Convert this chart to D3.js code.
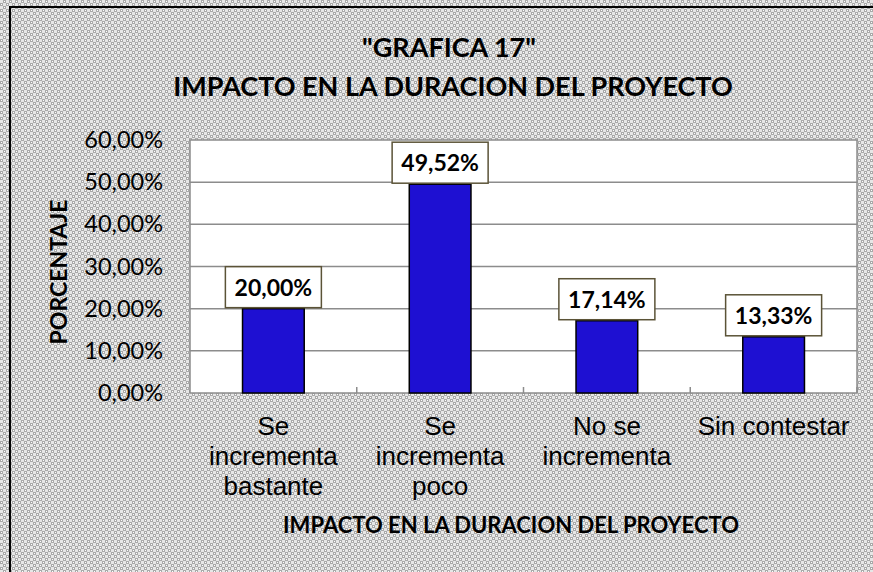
<!DOCTYPE html>
<html>
<head>
<meta charset="utf-8">
<script src="https://cdn.jsdelivr.net/npm/d3@7"></script>
<style>
  body { margin: 0; background: #fff; }
  svg { display: block; }
</style>
</head>
<body>
<div id="chart"></div>
<script>
// chart values
let categories = [
  ["Se", "incrementa", "bastante"],
  ["Se", "incrementa", "poco"],
  ["No se", "incrementa"],
  ["Sin contestar"]
];
let percentages = [20.00, 49.52, 17.14, 13.33];
let yTicks = [0, 10, 20, 30, 40, 50, 60];

let svgWidth = 873;
let svgHeight = 572;

let margin = { top: 140, right: 16, bottom: 179, left: 190 };
let width = svgWidth - margin.left - margin.right;
let height = svgHeight - margin.top - margin.bottom;

let svg = d3.select("#chart")
  .append("svg")
  .attr("width", svgWidth)
  .attr("height", svgHeight);

// dotted grey fill of the chart area
let pat = svg.append("defs").append("pattern")
  .attr("id", "dots")
  .attr("width", 6)
  .attr("height", 6)
  .attr("patternUnits", "userSpaceOnUse");
pat.append("rect").attr("width", 6).attr("height", 6).attr("fill", "#a9a9a9");
pat.append("rect").attr("x", 0).attr("y", 0).attr("width", 3).attr("height", 3).attr("fill", "#e6e6e6");
pat.append("rect").attr("x", 3).attr("y", 3).attr("width", 3).attr("height", 3).attr("fill", "#e6e6e6");
pat.append("rect").attr("x", 1).attr("y", 4).attr("width", 1).attr("height", 1).attr("fill", "#ffffff");
pat.append("rect").attr("x", 4).attr("y", 1).attr("width", 1).attr("height", 1).attr("fill", "#ffffff");

svg.append("rect")
  .attr("width", svgWidth)
  .attr("height", svgHeight)
  .attr("fill", "url(#dots)");

// outer frame (runs past the right and bottom edge)
svg.append("rect")
  .attr("x", 10)
  .attr("y", 7)
  .attr("width", svgWidth + 20)
  .attr("height", svgHeight + 20)
  .attr("fill", "none")
  .attr("stroke", "#000")
  .attr("stroke-width", 2);

let chartGroup = svg.append("g")
  .attr("transform", `translate(${margin.left}, ${margin.top})`);

let x = d3.scaleBand()
  .domain(d3.range(categories.length))
  .range([0, width])
  .paddingInner(0.63)
  .paddingOuter(0.315);

let xCat = d3.scaleBand()
  .domain(d3.range(categories.length))
  .range([0, width]);

let y = d3.scaleLinear()
  .domain([0, 60])
  .range([height, 0]);

// plot background
chartGroup.append("rect")
  .attr("width", width)
  .attr("height", height)
  .attr("fill", "#fff");

// gridlines
chartGroup.selectAll(".grid")
  .data(yTicks.filter(d => d > 0 && d < 60))
  .join("line")
  .attr("x1", 0)
  .attr("x2", width)
  .attr("y1", d => y(d))
  .attr("y2", d => y(d))
  .attr("stroke", "#8c8c8c")
  .attr("stroke-width", 1.5);

// plot border
chartGroup.append("rect")
  .attr("width", width)
  .attr("height", height)
  .attr("fill", "none")
  .attr("stroke", "#8c8c8c")
  .attr("stroke-width", 1.5);

// y axis labels
let leftAxis = d3.axisLeft(y)
  .tickValues(yTicks)
  .tickSize(0)
  .tickPadding(27)
  .tickFormat(d => d3.format(".2f")(d).replace(".", ",") + "%");

chartGroup.append("g")
  .call(leftAxis)
  .call(g => g.select(".domain").remove())
  .selectAll("text")
  .attr("font-family", "Lato, Open Sans, sans-serif")
  .attr("font-size", 23.5)
  .attr("fill", "#000");

// x ticks at category boundaries, pointing inward
chartGroup.selectAll(".xtick")
  .data(d3.range(1, categories.length + 1))
  .join("line")
  .attr("x1", d => d * xCat.bandwidth())
  .attr("x2", d => d * xCat.bandwidth())
  .attr("y1", height)
  .attr("y2", height - 6)
  .attr("stroke", "#8c8c8c")
  .attr("stroke-width", 1.5);

// bars
chartGroup.selectAll(".bar")
  .data(percentages)
  .join("rect")
  .attr("x", (d, i) => x(i))
  .attr("y", d => y(d))
  .attr("width", x.bandwidth())
  .attr("height", d => height - y(d))
  .attr("fill", "#1e10d2")
  .attr("stroke", "#000")
  .attr("stroke-width", 1.5);

// data labels in boxes
let labels = chartGroup.selectAll(".lbl")
  .data(percentages)
  .join("g")
  .attr("transform", (d, i) => `translate(${x(i) + x.bandwidth() / 2}, ${y(d)})`);

labels.append("rect")
  .attr("x", -48)
  .attr("y", -42)
  .attr("width", 96)
  .attr("height", 41)
  .attr("fill", "#fff")
  .attr("stroke", "#5b5337")
  .attr("stroke-width", 1.5);

labels.append("text")
  .attr("y", -13)
  .attr("text-anchor", "middle")
  .attr("font-family", "Lato, Open Sans, sans-serif")
  .attr("font-weight", "bold")
  .attr("font-size", 23)
  .text(d => d3.format(".2f")(d).replace(".", ",") + "%");

// category labels
let catLabels = chartGroup.selectAll(".cat")
  .data(categories)
  .join("text")
  .attr("text-anchor", "middle")
  .attr("font-family", "Liberation Sans, Arial, sans-serif")
  .attr("font-size", 26)
  .attr("fill", "#000")
  .attr("transform", (d, i) => `translate(${xCat(i) + xCat.bandwidth() / 2}, ${height + 42})`);

catLabels.selectAll("tspan")
  .data(d => d)
  .join("tspan")
  .attr("x", 0)
  .attr("dy", (d, i) => i === 0 ? 0 : 30)
  .text(d => d);

// titles
svg.append("text")
  .attr("x", 449)
  .attr("y", 57)
  .attr("text-anchor", "middle")
  .attr("font-family", "Lato, Open Sans, sans-serif")
  .attr("font-weight", "bold")
  .attr("font-size", 27)
  .text('"GRAFICA 17"');

svg.append("text")
  .attr("x", 453)
  .attr("y", 96)
  .attr("text-anchor", "middle")
  .attr("font-family", "Lato, Open Sans, sans-serif")
  .attr("font-weight", "bold")
  .attr("font-size", 27)
  .text("IMPACTO EN LA DURACION DEL PROYECTO");

svg.append("text")
  .attr("x", 511)
  .attr("y", 533)
  .attr("text-anchor", "middle")
  .attr("font-family", "Lato, Open Sans, sans-serif")
  .attr("font-weight", "bold")
  .attr("font-size", 22)
  .text("IMPACTO EN LA DURACION DEL PROYECTO");

svg.append("text")
  .attr("transform", `translate(67, 272) rotate(-90)`)
  .attr("text-anchor", "middle")
  .attr("font-family", "Lato, Open Sans, sans-serif")
  .attr("font-weight", "bold")
  .attr("font-size", 23)
  .text("PORCENTAJE");
</script>
</body>
</html>
